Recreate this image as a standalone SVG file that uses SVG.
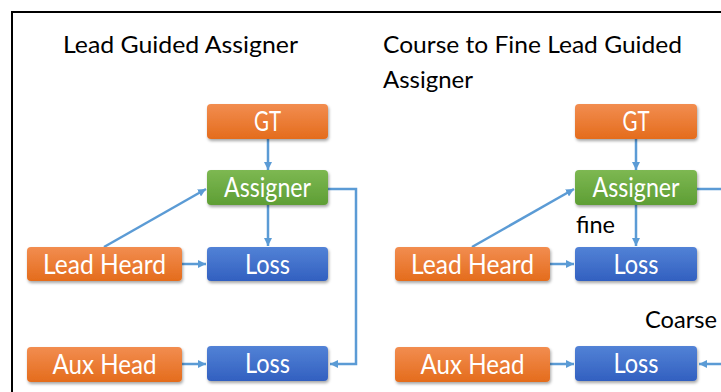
<svg xmlns="http://www.w3.org/2000/svg" width="721" height="392" viewBox="0 0 721 392">
<defs>
<linearGradient id="gOrange" x1="0" y1="0" x2="0" y2="1"><stop offset="0" stop-color="#F28D50"/><stop offset="1" stop-color="#E46C1C"/></linearGradient>
<linearGradient id="gGreen" x1="0" y1="0" x2="0" y2="1"><stop offset="0" stop-color="#7DB852"/><stop offset="1" stop-color="#5E9E34"/></linearGradient>
<linearGradient id="gBlue" x1="0" y1="0" x2="0" y2="1"><stop offset="0" stop-color="#5282D6"/><stop offset="1" stop-color="#3260C0"/></linearGradient>
<filter id="sh" x="-10%" y="-20%" width="120%" height="160%"><feDropShadow dx="1" dy="2" stdDeviation="1.8" flood-color="#000" flood-opacity="0.35"/></filter>
<marker id="ah" viewBox="0 0 10 10" refX="10" refY="5" markerWidth="8" markerHeight="8" markerUnits="userSpaceOnUse" orient="auto"><path d="M0,0 L10,5 L0,10 z" fill="#5B9BD5"/></marker>
</defs>
<style>
.box{filter:url(#sh)}
.o{fill:url(#gOrange)}
.g{fill:url(#gGreen)}
.b{fill:url(#gBlue)}
.bt{font-family:Lato,"Open Sans","Liberation Sans",sans-serif;font-size:26px;fill:#fff;text-anchor:middle}
.tt{font-family:Lato,"Open Sans","Liberation Sans",sans-serif;font-size:24px;fill:#000}
.c{fill:none;stroke:#5B9BD5;stroke-width:2.5}
.ca{fill:none;stroke:#5B9BD5;stroke-width:2.5;marker-end:url(#ah)}
</style>
<rect width="721" height="392" fill="#fff"/>
<path d="M12,392 V12 H721" fill="none" stroke="#000" stroke-width="2"/>

<text class="tt" x="63" y="53" textLength="235" lengthAdjust="spacingAndGlyphs">Lead Guided Assigner</text>
<text class="tt" x="383" y="53" textLength="299" lengthAdjust="spacingAndGlyphs">Course to Fine Lead Guided</text>
<text class="tt" x="383" y="88" textLength="90" lengthAdjust="spacingAndGlyphs">Assigner</text>
<text class="tt" x="576" y="233" textLength="39" lengthAdjust="spacingAndGlyphs">fine</text>
<text class="tt" x="645" y="328" textLength="72" lengthAdjust="spacingAndGlyphs">Coarse</text>

<g id="connectors">
<line class="ca" x1="268" y1="139" x2="268" y2="170"/>
<line class="ca" x1="268" y1="205" x2="268" y2="246"/>
<line class="ca" x1="104" y1="247" x2="206" y2="189"/>
<line class="ca" x1="182" y1="264" x2="206" y2="264"/>
<line class="ca" x1="182" y1="364" x2="206" y2="364"/>
<polyline class="ca" points="328,189 356,189 356,364 330,364"/>
<line class="ca" x1="636" y1="139" x2="636" y2="170"/>
<line class="ca" x1="636" y1="205" x2="636" y2="246"/>
<line class="ca" x1="472" y1="247" x2="574" y2="189"/>
<line class="ca" x1="550" y1="264" x2="574" y2="264"/>
<line class="ca" x1="550" y1="364" x2="574" y2="364"/>
<line class="c" x1="697" y1="189" x2="721" y2="189"/>
<line class="ca" x1="721" y1="364" x2="699" y2="364"/>
</g>

<g id="l-gt"><rect class="box o" x="207" y="104" width="121" height="35" rx="4"/><text class="bt" x="267.5" y="130.5" textLength="27" lengthAdjust="spacingAndGlyphs">GT</text></g>
<g id="l-assigner"><rect class="box g" x="207" y="170" width="121" height="35" rx="4"/><text class="bt" x="267.5" y="197" textLength="87" lengthAdjust="spacingAndGlyphs">Assigner</text></g>
<g id="l-lead"><rect class="box o" x="27" y="247" width="155" height="34" rx="4"/><text class="bt" x="104.5" y="274" textLength="123" lengthAdjust="spacingAndGlyphs">Lead Heard</text></g>
<g id="l-loss1"><rect class="box b" x="207" y="247" width="121" height="34" rx="4"/><text class="bt" x="267.5" y="274" textLength="45" lengthAdjust="spacingAndGlyphs">Loss</text></g>
<g id="l-aux"><rect class="box o" x="27" y="347" width="155" height="35" rx="4"/><text class="bt" x="104.5" y="374" textLength="104" lengthAdjust="spacingAndGlyphs">Aux Head</text></g>
<g id="l-loss2"><rect class="box b" x="207" y="346" width="121" height="35" rx="4"/><text class="bt" x="267.5" y="373" textLength="45" lengthAdjust="spacingAndGlyphs">Loss</text></g>

<g id="r-gt"><rect class="box o" x="575" y="104" width="122" height="35" rx="4"/><text class="bt" x="636" y="130.5" textLength="27" lengthAdjust="spacingAndGlyphs">GT</text></g>
<g id="r-assigner"><rect class="box g" x="575" y="170" width="122" height="35" rx="4"/><text class="bt" x="636" y="197" textLength="87" lengthAdjust="spacingAndGlyphs">Assigner</text></g>
<g id="r-lead"><rect class="box o" x="395" y="247" width="155" height="34" rx="4"/><text class="bt" x="472.5" y="274" textLength="123" lengthAdjust="spacingAndGlyphs">Lead Heard</text></g>
<g id="r-loss1"><rect class="box b" x="575" y="247" width="122" height="34" rx="4"/><text class="bt" x="636" y="274" textLength="45" lengthAdjust="spacingAndGlyphs">Loss</text></g>
<g id="r-aux"><rect class="box o" x="395" y="347" width="155" height="35" rx="4"/><text class="bt" x="472.5" y="374" textLength="104" lengthAdjust="spacingAndGlyphs">Aux Head</text></g>
<g id="r-loss2"><rect class="box b" x="575" y="346" width="122" height="35" rx="4"/><text class="bt" x="636" y="373" textLength="45" lengthAdjust="spacingAndGlyphs">Loss</text></g>
</svg>
